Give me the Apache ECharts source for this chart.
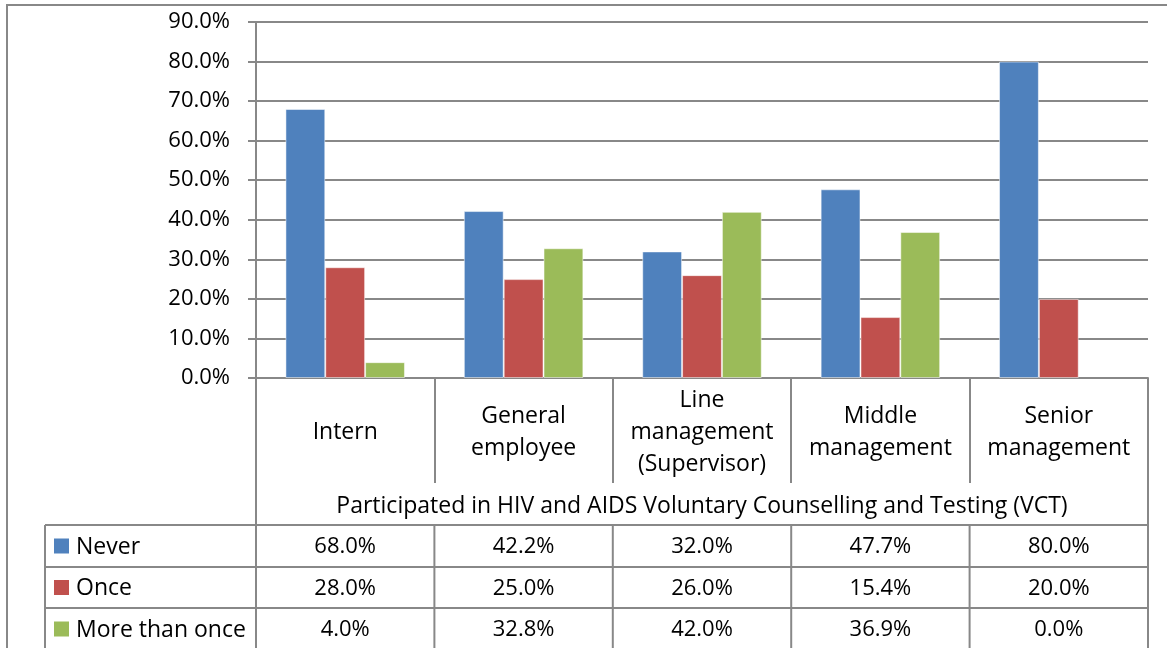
<!DOCTYPE html>
<html>
<head>
<meta charset="utf-8">
<script src="https://cdn.jsdelivr.net/npm/echarts@6/dist/echarts.min.js"></script>
<style>
  html, body { margin: 0; padding: 0; background: #fff; }
  #chart { width: 1167px; height: 648px; }
</style>
</head>
<body>
<div id="chart"></div>
<script>
// data (values from the data table)
const categories = ['Intern', 'General\nemployee', 'Line\nmanagement\n(Supervisor)', 'Middle\nmanagement', 'Senior\nmanagement'];
const seriesNames = ['Never', 'Once', 'More than once'];
const never = [68.0, 42.2, 32.0, 47.7, 80.0];
const once = [28.0, 25.0, 26.0, 15.4, 20.0];
const moreThanOnce = [4.0, 32.8, 42.0, 36.9, 0.0];
const axisTitle = 'Participated in HIV and AIDS Voluntary Counselling and Testing (VCT)';
const colors = ['#4F81BD', '#C0504D', '#9BBB59'];

const FONT = '"Open Sans", Lato, sans-serif';
const FS = 22;      // numbers
const FS_TXT = 23;  // words
const LINE = '#888888';
const W = 1167;
const plotLeft = 256, plotRight = 1148, plotTop = 22, plotBottom = 378;
const colW = (plotRight - plotLeft) / categories.length;
const rowLines = [525, 567, 608, 650];
const tableLeft = 45;

const rows = [never, once, moreThanOnce];
const fmt = v => v.toFixed(1) + '%';

const graphics = [];
// outer chart border
graphics.push({ type: 'rect', shape: { x: 7, y: 5, width: 1200, height: 700 },
  style: { fill: 'none', stroke: LINE, lineWidth: 2 }, silent: true });
// horizontal table lines
rowLines.forEach(y => graphics.push({ type: 'line', shape: { x1: tableLeft, y1: y, x2: plotRight, y2: y },
  style: { stroke: LINE, lineWidth: 2 }, silent: true }));
// left border of the legend column
graphics.push({ type: 'line', shape: { x1: tableLeft, y1: rowLines[0], x2: tableLeft, y2: 650 },
  style: { stroke: LINE, lineWidth: 2 }, silent: true });
// vertical lines in the value rows
for (let i = 0; i <= categories.length; i++) {
  const x = plotLeft + colW * i;
  const y1 = (i === 0 || i === categories.length) ? plotBottom : rowLines[0];
  graphics.push({ type: 'line', shape: { x1: x, y1: y1, x2: x, y2: 650 },
    style: { stroke: LINE, lineWidth: 2 }, silent: true });
}
// axis title row
graphics.push({ type: 'text', x: (plotLeft + plotRight) / 2, y: 506,
  style: { text: axisTitle, font: FS_TXT + 'px ' + FONT, fill: '#000', align: 'center', verticalAlign: 'middle' } });
// rows: legend key + values
rows.forEach((vals, r) => {
  const cy = (rowLines[r] + rowLines[r + 1]) / 2;
  graphics.push({ type: 'rect', shape: { x: 54, y: cy - 7.5, width: 15, height: 15 },
    style: { fill: colors[r] } });
  graphics.push({ type: 'text', x: 76, y: cy + 1,
    style: { text: seriesNames[r], font: FS_TXT + 'px ' + FONT, fill: '#000', align: 'left', verticalAlign: 'middle' } });
  vals.forEach((v, c) => {
    graphics.push({ type: 'text', x: plotLeft + colW * (c + 0.5), y: cy + 1,
      style: { text: fmt(v), font: FS + 'px ' + FONT, fill: '#000', align: 'center', verticalAlign: 'middle' } });
  });
});

const chart = echarts.init(document.getElementById('chart'));
chart.setOption({
  animation: false,
  backgroundColor: '#fff',
  textStyle: { fontFamily: FONT },
  grid: { left: plotLeft, right: W - plotRight, top: plotTop, bottom: 648 - plotBottom, containLabel: false },
  xAxis: {
    type: 'category',
    data: categories,
    axisLine: { lineStyle: { color: LINE, width: 2 } },
    axisTick: { show: true, interval: 0, length: 105, lineStyle: { color: LINE, width: 2 } },
    axisLabel: { interval: 0, fontSize: FS_TXT, color: '#000', lineHeight: 32, margin: 54, verticalAlign: 'middle', fontFamily: FONT }
  },
  yAxis: {
    type: 'value',
    min: 0, max: 90, interval: 10,
    axisLine: { show: true, lineStyle: { color: LINE, width: 2 } },
    axisTick: { show: true, length: 8, lineStyle: { color: LINE, width: 2 } },
    axisLabel: { fontSize: FS, color: '#000', margin: 26, fontFamily: FONT, formatter: v => v.toFixed(1) + '%' },
    splitLine: { lineStyle: { color: LINE, width: 2 } }
  },
  series: rows.map((vals, i) => ({
    name: seriesNames[i],
    type: 'bar',
    data: vals.map(v => ({ value: v, itemStyle: v === 0 ? { borderWidth: 0 } : {} })),
    barGap: '0%',
    barCategoryGap: '33%',
    itemStyle: { color: colors[i], borderColor: 'rgba(255,255,255,0.5)', borderWidth: 1 }
  })),
  graphic: graphics
});
</script>
</body>
</html>
